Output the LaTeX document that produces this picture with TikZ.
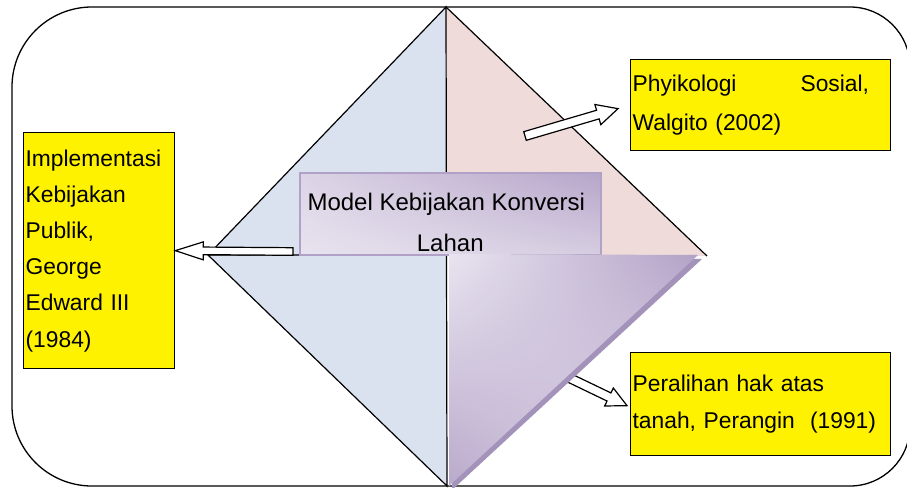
\documentclass[tikz,border=0pt]{standalone}
\usepackage{fontspec}
\setmainfont{Liberation Sans}
\usetikzlibrary{calc,shadings}

\definecolor{paleblue}{HTML}{DAE2EF}
\definecolor{palepink}{HTML}{EFDBDA}
\definecolor{lavlight}{HTML}{E9E4F0}
\definecolor{lavdark}{HTML}{B2A1C6}
\definecolor{lavmid}{HTML}{B9A9CB}
\definecolor{lavshadow}{HTML}{A393BA}
\definecolor{boxul}{HTML}{DCD4E6}
\definecolor{boxll}{HTML}{E8E3EF}
\definecolor{boxur}{HTML}{B6A5C9}
\definecolor{boxlr}{HTML}{D6CDE1}

% hollow block arrow: tail, tip, shaft half width, head half width, head length
\newcommand{\hollowarrow}[5]{%
  \coordinate (hb) at ($(#2)!#5!(#1)$);
  \draw[hollow] ($(#1)!#3!90:(#2)$) -- ($(hb)!#3!90:(#2)$) -- ($(hb)!#4!90:(#2)$)
    -- (#2) -- ($(hb)!#4!-90:(#2)$) -- ($(hb)!#3!-90:(#2)$) -- ($(#1)!#3!-90:(#2)$) -- cycle;
}

\begin{document}
\begin{tikzpicture}[x=1pt,y=-1pt,
  ybox/.style={draw, fill=yellow, line width=1.3pt, anchor=north west, align=left,
    inner xsep=2pt, inner ysep=0pt, font=\fontsize{22.8}{36.2}\selectfont},
  hollow/.style={draw, fill=white, line width=1.2pt, line join=miter},
  edge/.style={line width=1.2pt}]

\useasboundingbox (0,0) rectangle (907,487);

% frame
\draw[line width=1.3pt] (446,7) [rounded corners=60] -- (910,7) -- (910,486)
  [rounded corners=80] -- (12,486) -- (12,7) -- cycle;

% diamond corners
\coordinate (top) at (446,7);
\coordinate (lft) at (208,255);
\coordinate (rgt) at (707,256);
\coordinate (bot) at (447,486);
\coordinate (mid) at (446.5,255);

\fill[paleblue] (top) -- (lft) -- (mid) -- cycle;
\fill[palepink] (top) -- (rgt) -- (mid) -- cycle;
\draw[edge] (lft) -- (top) -- (mid);
\draw[edge] (top) -- (rgt);
\draw[edge, fill=paleblue] (lft) -- (mid) -- (bot) -- cycle;

% text boxes
\node[ybox, text width=147, minimum height=236] (impl) at (23,132)
  {Implementasi\\Kebijakan\\Publik,\\George\\Edward III\\(1984)};
\node[ybox, text width=256, minimum height=91, font=\fontsize{22.8}{38.5}\selectfont] (phys) at (630,59)
  {Phyikologi\hspace{64pt}Sosial,\\Walgito (2002)};
\node[ybox, text width=256, minimum height=103, font=\fontsize{22.8}{37}\selectfont] (peral) at (630,352)
  {Peralihan hak atas\\tanah, Perangin\ \ (1991)};

% arrows
\coordinate (a1) at (293,251.5);
\coordinate (a2) at (525,136);
\coordinate (a2tip) at ($(phys.west)+(-12,3.5)$);
\coordinate (a3) at (555,371);
\coordinate (a3tip) at ($(peral.west)+(-3,1.5)$);
\hollowarrow{a1}{impl.east}{3.8pt}{9pt}{28pt}
\hollowarrow{a2}{a2tip}{4.5pt}{10.5pt}{21pt}
\hollowarrow{a3}{a3tip}{4.5pt}{10pt}{20pt}

% centre box
\node[draw=lavdark, line width=1.5pt, anchor=north west, align=center, inner sep=0pt,
  minimum width=301, minimum height=82,
  upper left=boxul, lower left=boxll, upper right=boxur, lower right=boxlr,
  font=\fontsize{24}{41}\selectfont] (model) at (299,172)
  {\rule{0pt}{37.5pt}Model Kebijakan Konversi\hspace*{8pt}\\Lahan\rule[-3pt]{0pt}{3pt}};

% lower right triangle
\fill[lavshadow] (452,258) -- (702,259) -- (452,490) -- cycle;
\shade[upper left=lavlight, upper right=lavdark, lower left=lavmid, lower right=lavlight]
  (449,254) -- (698,255) -- (449,486) -- cycle;

\end{tikzpicture}
\end{document}
